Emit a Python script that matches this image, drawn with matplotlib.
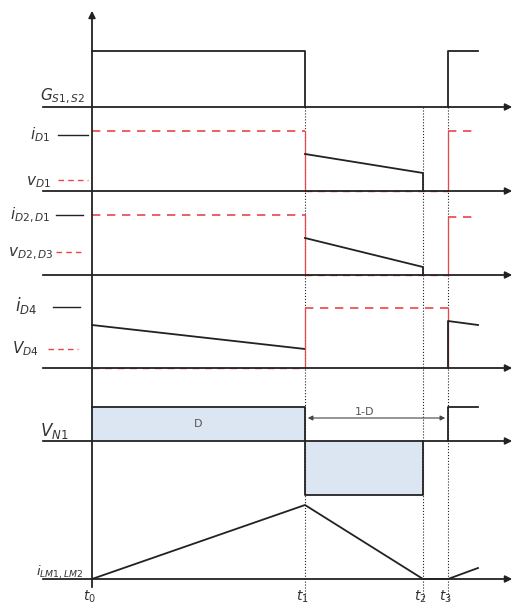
import matplotlib.pyplot as plt

# time instants (x in picture units) and end of drawn waveform
t_marks = [92, 305, 423, 448]
t_end = 478
t_names = ['$t_0$', '$t_1$', '$t_2$', '$t_3$']

# baselines of each trace (y grows downwards)
base_g, base_d1, base_d23, base_d4, base_n1, base_lm = 107, 191, 275, 368, 441, 579

# gate signal
g_high = 51
# diode D1: current level, voltage ramp start / end
d1_i = 131
d1_v = [154, 173]
# diodes D2, D3
d23_i = 215
d23_i_next = 217
d23_v = [238, 267]
# diode D4
d4_v_on = [325, 349]
d4_i = 308
d4_v_next = [321, 325]
# magnetizing voltage
n1_pos, n1_neg = 407, 495
# magnetizing current
lm_peak = 505
lm_next = 568

red = '#e8474a'
blue_fill = '#dce6f2'
black = '#222222'
txt = '#333333'

fig = plt.figure(figsize=(5.17, 6.10), dpi=100)
ax = fig.add_axes([0, 0, 1, 1])
ax.set_xlim(0, 517)
ax.set_ylim(610, 0)
ax.axis('off')

t0, t1, t2, t3 = t_marks

# vertical axis with arrow
ax.annotate('', xy=(t0, 8), xytext=(t0, 590),
            arrowprops=dict(arrowstyle='-|>', color=black, lw=1.3, mutation_scale=10))

# horizontal baselines with arrows
for b in [base_g, base_d1, base_d23, base_d4, base_n1, base_lm]:
    ax.annotate('', xy=(515, b), xytext=(40, b),
                arrowprops=dict(arrowstyle='-|>', color=black, lw=1.3, mutation_scale=10))

# dotted time markers
for t in [t1, t2, t3]:
    ax.plot([t, t], [base_g, 600], color=black, lw=0.8, ls=':')

lw = 1.3
dash = (0, (5, 4))
# gate
ax.plot([t0, t1, t1], [g_high, g_high, base_g], color=black, lw=lw)
ax.plot([t3, t3, t_end], [base_g, g_high, g_high], color=black, lw=lw)

# D1
ax.plot([t0, t1], [d1_i, d1_i], color=red, lw=1.2, ls=dash)
ax.plot([t1, t1], [d1_i, base_d1], color=red, lw=0.9)
ax.plot([t1, t3], [base_d1, base_d1], color=red, lw=1.0, ls=dash)
ax.plot([t3, t3], [base_d1, d1_i], color=red, lw=0.9)
ax.plot([t3, t_end], [d1_i, d1_i], color=red, lw=1.2, ls=dash)
ax.plot([t1, t2, t2], [d1_v[0], d1_v[1], base_d1], color=black, lw=lw)

# D2, D3
ax.plot([t0, t1], [d23_i, d23_i], color=red, lw=1.2, ls=dash)
ax.plot([t1, t1], [d23_i, base_d23], color=red, lw=0.9)
ax.plot([t1, t3], [base_d23, base_d23], color=red, lw=1.0, ls=dash)
ax.plot([t3, t3], [base_d23, d23_i_next], color=red, lw=0.9)
ax.plot([t3, t_end], [d23_i_next, d23_i_next], color=red, lw=1.2, ls=dash)
ax.plot([t1, t2, t2], [d23_v[0], d23_v[1], base_d23], color=black, lw=lw)

# D4
ax.plot([t0, t1], [d4_v_on[0], d4_v_on[1]], color=black, lw=lw)
ax.plot([t0, t1], [base_d4, base_d4], color=red, lw=1.0, ls=dash)
ax.plot([t1, t1], [base_d4, d4_i], color=red, lw=0.9)
ax.plot([t1, t3], [d4_i, d4_i], color=red, lw=1.2, ls=dash)
ax.plot([t3, t3], [d4_i, base_d4], color=red, lw=0.9)
ax.plot([t3, t3, t_end], [base_d4, d4_v_next[0], d4_v_next[1]], color=black, lw=lw)

# V_N1
ax.fill_between([t0, t1], n1_pos, base_n1, color=blue_fill, lw=0)
ax.fill_between([t1, t2], base_n1, n1_neg, color=blue_fill, lw=0)
ax.plot([t0, t1, t1, t2, t2], [n1_pos, n1_pos, n1_neg, n1_neg, base_n1], color=black, lw=lw)
ax.plot([t3, t3, t_end], [base_n1, n1_pos, n1_pos], color=black, lw=lw)
ax.text((t0 + t1) / 2, 424, 'D', ha='center', va='center', fontsize=8, color='#555555')
ax.annotate('', xy=(t1, 418), xytext=(t3, 418),
            arrowprops=dict(arrowstyle='<|-|>', color='#444444', lw=0.8, mutation_scale=7))
ax.text((t1 + t3) / 2 - 12, 412, '1-D', ha='center', va='center', fontsize=8, color='#555555')

# magnetizing current
ax.plot([t0, t1, t2, t3, t_end], [base_lm, lm_peak, base_lm, base_lm, lm_next], color=black, lw=lw)

# left-side labels and legend stubs
fs = 11
ax.text(40, 100, r'$G_{S1,S2}$', fontsize=fs, ha='left', va='baseline', color=txt)
ax.text(30, 139, r'$i_{D1}$', fontsize=fs, ha='left', va='baseline', color=txt)
ax.plot([58, 88], [135, 135], color=black, lw=1.0)
ax.text(26, 185, r'$v_{D1}$', fontsize=fs, ha='left', va='baseline', color=txt)
ax.plot([58, 88], [180, 180], color=red, lw=1.0, ls=(0, (4, 3)))
ax.text(10, 219, r'$i_{D2,D1}$', fontsize=fs, ha='left', va='baseline', color=txt)
ax.plot([56, 83], [215, 215], color=black, lw=1.0)
ax.text(8, 256, r'$v_{D2,D3}$', fontsize=fs, ha='left', va='baseline', color=txt)
ax.plot([56, 83], [252, 252], color=red, lw=1.0, ls=(0, (4, 3)))
ax.text(15, 311, r'$i_{D4}$', fontsize=fs + 1, ha='left', va='baseline', color=txt)
ax.plot([53, 80], [307, 307], color=black, lw=1.0)
ax.text(12, 353, r'$V_{D4}$', fontsize=fs, ha='left', va='baseline', color=txt)
ax.plot([48, 78], [349, 349], color=red, lw=1.0, ls=(0, (4, 3)))
ax.text(40, 436, r'$V_{N1}$', fontsize=fs + 1, ha='left', va='baseline', color=txt)
ax.text(36, 576, r'$i_{LM1,LM2}$', fontsize=9.5, ha='left', va='baseline', color=txt)

for t, name in zip(t_marks, t_names):
    ax.text(t - 3, 597, name, fontsize=10, ha='center', va='center', color=txt)

fig.savefig('out.png', dpi=100)
